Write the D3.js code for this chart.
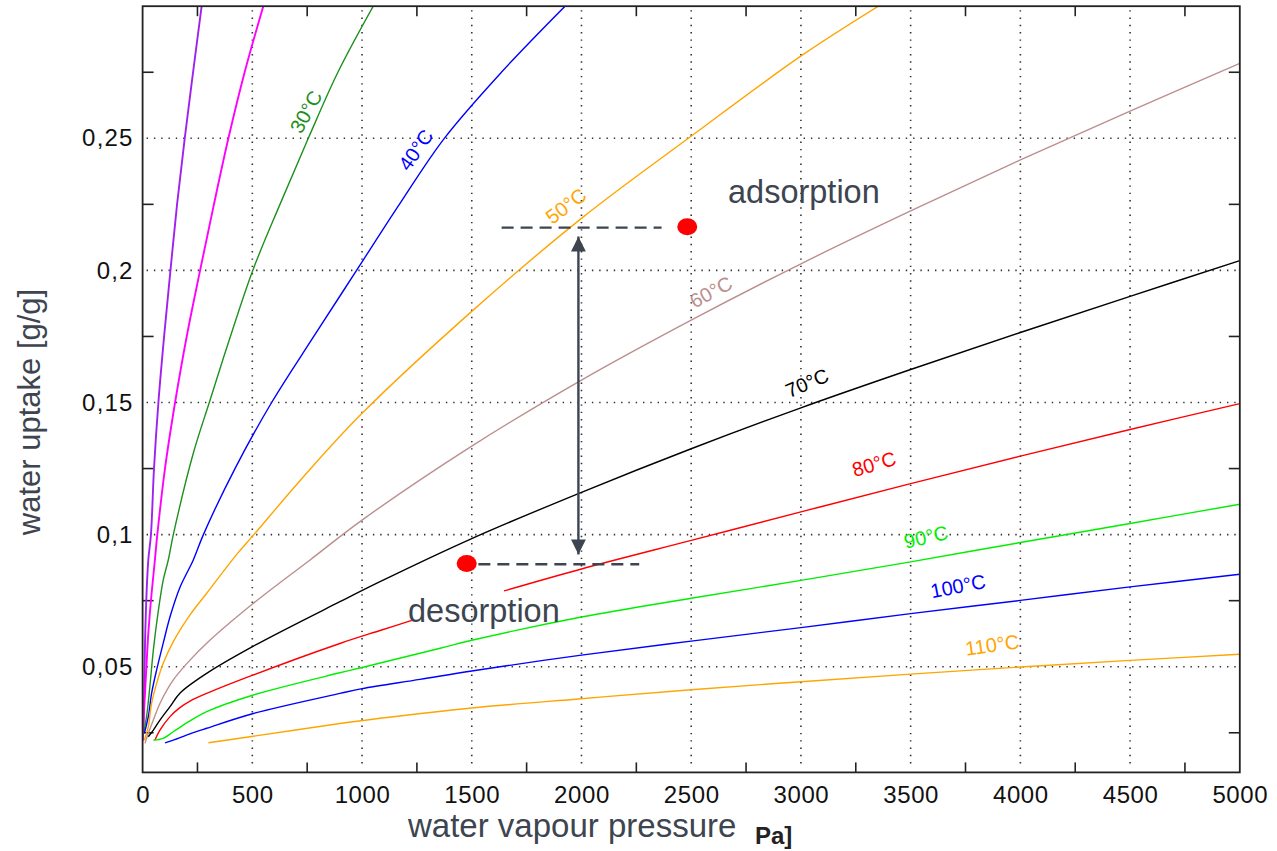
<!DOCTYPE html>
<html><head><meta charset="utf-8">
<script src="https://cdn.jsdelivr.net/npm/d3@7"></script>
<style>
body{margin:0;background:#fff;}
svg{display:block;font-family:"Liberation Sans",Arial,Helvetica,sans-serif;}
</style></head><body>
<svg id="chart" width="1277" height="851"></svg>
<script>
// ---------- data ----------
const xMajorTicks = [0,500,1000,1500,2000,2500,3000,3500,4000,4500,5000];
const xMinorTicks = [250,750,1250,1750,2250,2750,3250,3750,4250,4750];
const yMajorTicks = [0.05,0.1,0.15,0.2,0.25];
const yMinorTicks = [0.025,0.075,0.125,0.175,0.225,0.275];

// isotherms: [pressure Pa, uptake g/g]
const curvePurple = [[1,0.022],[6,0.0336],[11,0.0588],[18,0.0778],[26,0.0904],[38,0.10],[52,0.125],[72,0.15],[98,0.175],[127,0.20],[157,0.225],[192,0.25],[230,0.275],[269,0.30]];
const curveMagenta = [[2,0.024],[6,0.0323],[15,0.0462],[26,0.0626],[41,0.0778],[56,0.0904],[67,0.10],[102,0.125],[148,0.15],[201,0.175],[262,0.20],[325,0.225],[391,0.25],[465,0.275],[550,0.30]];
const curve30 = [[4,0.0248],[18,0.0311],[33,0.0424],[49,0.0563],[72,0.0714],[94,0.0828],[117,0.0904],[140,0.10],[231,0.1308],[304,0.15],[400,0.175],[502,0.20],[626,0.225],[755,0.25],[890,0.275],[1051,0.30]];
const curve40 = [[8,0.0248],[26,0.0311],[41,0.0399],[64,0.0488],[94,0.0589],[125,0.0689],[170,0.0800],[231,0.0904],[277,0.10],[421,0.125],[588,0.15],[780,0.175],[975,0.20],[1170,0.225],[1375,0.25],[1635,0.275],[1925,0.30]];
const curve50 = [[8,0.0222],[26,0.0273],[41,0.0361],[64,0.0437],[94,0.0513],[140,0.0595],[216,0.0696],[292,0.0778],[429,0.0925],[505,0.0998],[750,0.1235],[1000,0.1459],[1500,0.1845],[2000,0.2197],[2487,0.25],[2996,0.2809],[3353,0.30]];
const curve60 = [[11,0.021],[26,0.0248],[49,0.0298],[79,0.0361],[140,0.045],[216,0.0525],[292,0.0589],[505,0.074],[763,0.0904],[1000,0.1055],[1500,0.1335],[2000,0.1585],[2500,0.1812],[3000,0.2025],[3500,0.2225],[4000,0.2418],[4500,0.2603],[5000,0.2784]];
const curve70 = [[26,0.0235],[49,0.026],[79,0.0298],[125,0.0349],[170,0.0400],[292,0.0475],[505,0.0578],[899,0.0746],[1082,0.0822],[1500,0.0985],[2000,0.1160],[2500,0.1325],[3000,0.1480],[3500,0.1625],[4000,0.1765],[4500,0.1902],[5000,0.2037]];
const curve80 = [[56,0.0222],[79,0.026],[125,0.0311],[170,0.0345],[216,0.0370],[292,0.0399],[505,0.0469],[899,0.0588],[1082,0.0637],[1234,0.0677],[null,null],[1647,0.0787],[2000,0.0870],[2500,0.0978],[3000,0.1086],[3500,0.1193],[4000,0.1297],[4500,0.1398],[5000,0.1496]];
const curve90 = [[49,0.0222],[94,0.0229],[140,0.0254],[216,0.0295],[292,0.033],[505,0.0393],[899,0.0477],[1000,0.0497],[1356,0.057],[1500,0.0600],[2000,0.0688],[2500,0.0759],[3000,0.0827],[3500,0.0897],[4000,0.0970],[4500,0.1042],[5000,0.1115]];
const curve100 = [[102,0.0212],[140,0.0222],[216,0.0246],[292,0.0267],[505,0.0323],[899,0.0399],[1000,0.0417],[1264,0.0452],[1500,0.0484],[2000,0.0544],[2500,0.0597],[3000,0.0648],[3500,0.0701],[4000,0.0751],[4500,0.0802],[5000,0.085]];
const curve110 = [[300,0.0212],[505,0.0237],[899,0.0285],[1082,0.0305],[1500,0.0344],[2000,0.0379],[2500,0.0413],[3000,0.0443],[3500,0.0472],[4000,0.0499],[4500,0.0524],[5000,0.0547]];

const curveLabels = ["", "", "30°C", "40°C", "50°C", "60°C", "70°C", "80°C", "90°C", "100°C", "110°C"];
// label anchor [Pa, g/g]
const labelAnchors = [null, null, [745,0.2600],[1245,0.2456],[1929,0.2244],[2590,0.1918],[3028,0.1574],[3333,0.1267],[3570,0.0991],[3716,0.0805],[3871,0.0582]];

// operating points (adsorption / desorption)
const cyclePoints = [[2482,0.2165],[1477,0.0891]];
const dashTop = [[1636,0.2162],[2365,0.2162]];
const dashBottom = [[1530,0.0888],[2263,0.0888]];
const arrowLine = [[1986,0.0925],[1986,0.2128]];

// ---------- styles ----------
const colors = ["#a020f0","#ff00ff","#1e901e","#0000ff","#ffa500","#bc8f8f","#000000","#ff0000","#00ee00","#0000ff","#ffa500"];
const labelRot = [0,0,-61,-55,-37,-28,-23,-16,-13,-11,-8];
const curves = [curvePurple,curveMagenta,curve30,curve40,curve50,curve60,curve70,curve80,curve90,curve100,curve110];

const svg = d3.select("#chart");
const L = 142.6, R = 1239.8, T = 6.2, B = 772.4;
const x = d3.scaleLinear().domain([0,5000]).range([L,R]);
const y = d3.scaleLinear().domain([0.01,0.30]).range([B,T]);

svg.append("rect").attr("width",1277).attr("height",851).attr("fill","#fff");

const defs = svg.append("defs");
defs.append("clipPath").attr("id","plotclip")
  .append("rect").attr("x",L).attr("y",T).attr("width",R-L).attr("height",B-T);

// grid (dotted)
const grid = svg.append("g");
grid.selectAll("line.gx").data(xMajorTicks.filter(d=>d>0&&d<5000)).join("line")
  .attr("x1",d=>x(d)).attr("x2",d=>x(d)).attr("y1",T+4).attr("y2",B-4)
  .attr("stroke","#333").attr("stroke-width",1.6).attr("stroke-dasharray","1.4,5.9");
grid.selectAll("line.gy").data(yMajorTicks).join("line")
  .attr("y1",d=>y(d)).attr("y2",d=>y(d)).attr("x1",L+4).attr("x2",R-4)
  .attr("stroke","#333").attr("stroke-width",1.6).attr("stroke-dasharray","1.4,5.9");

// minor ticks inward on all sides
const tk = svg.append("g").attr("stroke","#222").attr("stroke-width",1.6);
xMinorTicks.forEach(v=>{
  tk.append("line").attr("x1",x(v)).attr("x2",x(v)).attr("y1",B).attr("y2",B-10);
  tk.append("line").attr("x1",x(v)).attr("x2",x(v)).attr("y1",T).attr("y2",T+10);
});
yMinorTicks.forEach(v=>{
  tk.append("line").attr("y1",y(v)).attr("y2",y(v)).attr("x1",L).attr("x2",L+11);
  tk.append("line").attr("y1",y(v)).attr("y2",y(v)).attr("x1",R).attr("x2",R-11);
});

// tick labels via d3 axes
const xAxis = d3.axisBottom(x).tickValues(xMajorTicks).tickSize(0).tickPadding(14).tickFormat(d3.format("d"));
const gx = svg.append("g").attr("transform",`translate(0,${B})`).call(xAxis);
gx.select(".domain").remove();
gx.selectAll("text").attr("font-size",24).attr("fill","#111").attr("font-family","Liberation Sans, Arial, sans-serif").attr("letter-spacing","0.6");

const yAxis = d3.axisLeft(y).tickValues(yMajorTicks).tickSize(0).tickPadding(9)
  .tickFormat(d=>d3.format("~g")(d).replace(".",","));
const gy = svg.append("g").attr("transform",`translate(${L},0)`).call(yAxis);
gy.select(".domain").remove();
gy.selectAll("text").attr("font-size",24).attr("fill","#111").attr("font-family","Liberation Sans, Arial, sans-serif").attr("letter-spacing","1.2");

// curves
const line = d3.line().defined(d=>d[0]!=null).x(d=>x(d[0])).y(d=>y(d[1])).curve(d3.curveCatmullRom.alpha(0.5));
const cg = svg.append("g").attr("clip-path","url(#plotclip)");
curves.forEach((c,i)=>{
  cg.append("path").attr("d",line(c)).attr("fill","none").attr("stroke",colors[i])
    .attr("stroke-width", i<2 ? 1.9 : 1.4);
});

// curve labels
curveLabels.forEach((t,i)=>{
  if(!t) return;
  const a = labelAnchors[i];
  svg.append("text").attr("transform",`translate(${x(a[0])},${y(a[1])}) rotate(${labelRot[i]})`)
    .attr("text-anchor","middle").attr("dominant-baseline","central")
    .attr("font-size",20).attr("fill",colors[i]).text(t);
});

// plot border
svg.append("rect").attr("x",L).attr("y",T).attr("width",R-L).attr("height",B-T)
  .attr("fill","none").attr("stroke","#222").attr("stroke-width",1.8);

// annotations
const annoColor = "#3d4550";
[dashTop,dashBottom].forEach(seg=>{
  svg.append("line").attr("x1",x(seg[0][0])).attr("x2",x(seg[1][0])).attr("y1",y(seg[0][1])).attr("y2",y(seg[1][1]))
    .attr("stroke",annoColor).attr("stroke-width",2.4).attr("stroke-dasharray","12,7");
});
defs.append("marker").attr("id","ah").attr("viewBox","0 0 10 10").attr("refX",10).attr("refY",5)
  .attr("markerWidth",15).attr("markerHeight",15).attr("markerUnits","userSpaceOnUse").attr("orient","auto-start-reverse")
  .append("path").attr("d","M0,0 L10,5 L0,10 Z").attr("fill",annoColor);
svg.append("line").attr("x1",x(arrowLine[0][0])).attr("x2",x(arrowLine[1][0]))
  .attr("y1",y(arrowLine[0][1])).attr("y2",y(arrowLine[1][1]))
  .attr("stroke",annoColor).attr("stroke-width",2.4)
  .attr("marker-start","url(#ah)").attr("marker-end","url(#ah)");
svg.selectAll("ellipse.pt").data(cyclePoints).join("ellipse")
  .attr("cx",d=>x(d[0])).attr("cy",d=>y(d[1])).attr("rx",10).attr("ry",8.5).attr("fill","#ff0000");

svg.append("text").attr("x",728).attr("y",203).attr("font-size",32.5).attr("fill",annoColor).text("adsorption");
svg.append("text").attr("x",408).attr("y",622).attr("font-size",32.5).attr("fill",annoColor).text("desorption");

// axis titles
svg.append("text").attr("transform","translate(40,412) rotate(-90)").attr("text-anchor","middle")
  .attr("font-size",31).attr("fill",annoColor).text("water uptake [g/g]");
svg.append("text").attr("x",408).attr("y",837).attr("font-size",33).attr("fill",annoColor).text("water vapour pressure");
svg.append("text").attr("x",755).attr("y",844).attr("font-size",24).attr("font-weight","bold").attr("fill","#222").text("Pa]");
</script>
</body></html>
